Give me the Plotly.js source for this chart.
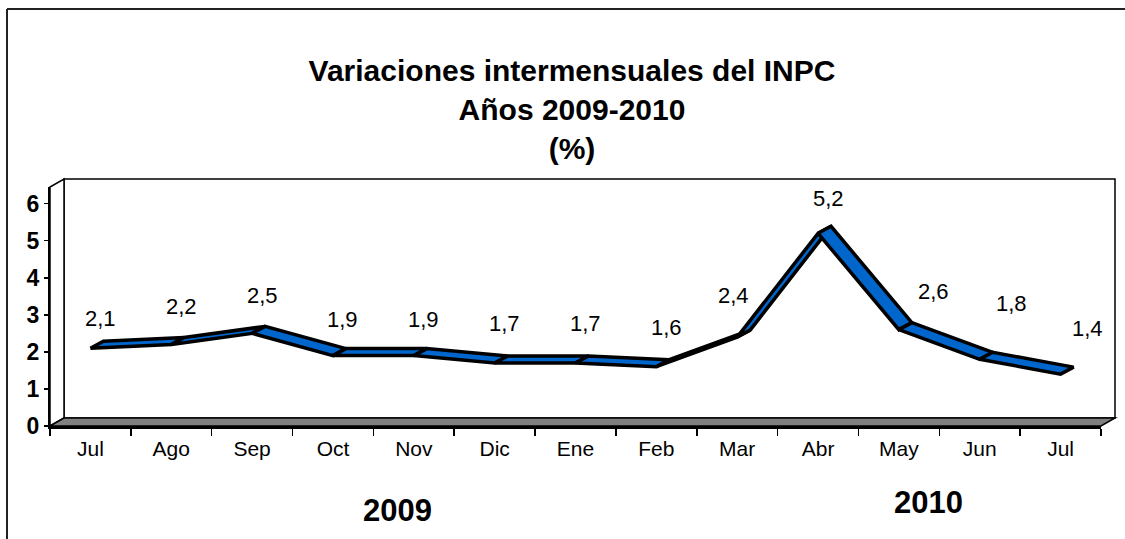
<!DOCTYPE html>
<html>
<head>
<meta charset="utf-8">
<script src="https://cdn.plot.ly/plotly-3.0.1.min.js"></script>
<style>html,body{margin:0;padding:0;background:#fff;}#chart{width:1125px;height:539px;}</style>
</head>
<body>
<div id="chart"></div>
<script>
// ---- data ----
const months = ['Jul','Ago','Sep','Oct','Nov','Dic','Ene','Feb','Mar','Abr','May','Jun','Jul'];
const values = [2.1, 2.2, 2.5, 1.9, 1.9, 1.7, 1.7, 1.6, 2.4, 5.2, 2.6, 1.8, 1.4];
const yearLabels = ['2009', '2010'];
const yTicks = [0, 1, 2, 3, 4, 5, 6];

// ---- styling / geometry ----
const FONT = 'Liberation Sans, Arial, Helvetica, sans-serif';
const W = 1125, H = 539;
const M = {l: 50, r: 24, t: 187, b: 113};
const PW = W - M.l - M.r, PH = H - M.t - M.b;
const YMAX = 6.45;
const XMIN = -0.5, XMAX = months.length - 0.5;
// depth offset of the 3D ribbon (pixels converted to data units)
const depthPx = {x: 13, y: 7};
const dX = depthPx.x / PW * (XMAX - XMIN);
const dY = depthPx.y / PH * YMAX;
const PX = p => (p - M.l) / PW;
const PY = p => (H - M.b - p) / PH;
// label nudges in pixels (dx, dy up)
const labelDx = [10, 10, 10, 10, 10, 10, 10, 10, -4, 10, 35, 32, 27];
const labelDy = [30, 38, 38, 36, 36, 40, 40, 39, 42, 35, 38, 56, 46];

const traces = [];
for (let i = 0; i < values.length - 1; i++) {
  const x0 = i, x1 = i + 1, y0 = values[i], y1 = values[i + 1];
  traces.push({
    type: 'scatter', mode: 'lines', xaxis: 'x', yaxis: 'y',
    x: [x0, x1, x1 + dX, x0 + dX, x0],
    y: [y0, y1, y1 + dY, y0 + dY, y0],
    fill: 'toself', fillcolor: '#0066CC',
    line: {color: '#000', width: 3.5, shape: 'linear'},
    hoverinfo: 'skip', showlegend: false
  });
}
// invisible trace to activate month-label axis
traces.push({type: 'scatter', mode: 'markers', x: months.map((m, i) => i), y: values,
  xaxis: 'x2', yaxis: 'y', marker: {opacity: 0}, hoverinfo: 'skip', showlegend: false});

const annotations = values.map((v, i) => ({
  x: i, y: v, xref: 'x', yref: 'y', text: v.toFixed(1).replace('.', ','),
  showarrow: false, xshift: labelDx[i], yshift: labelDy[i],
  xanchor: 'center', yanchor: 'middle',
  font: {family: FONT, size: 22, color: '#000'}
}));
annotations.push({x: PX(397), y: PY(510), xref: 'paper', yref: 'paper', text: '<b>' + yearLabels[0] + '</b>',
  xanchor: 'center', yanchor: 'middle',
  showarrow: false, font: {family: FONT, size: 31, color: '#000'}});
annotations.push({x: PX(928), y: PY(502), xref: 'paper', yref: 'paper', text: '<b>' + yearLabels[1] + '</b>',
  xanchor: 'center', yanchor: 'middle',
  showarrow: false, font: {family: FONT, size: 31, color: '#000'}});

const shapes = [
  // back wall
  {type: 'rect', xref: 'paper', yref: 'paper', x0: PX(64), y0: PY(418), x1: PX(1115), y1: PY(179),
    fillcolor: '#fff', line: {color: '#000', width: 1.5}, layer: 'below'},
  // side wall
  {type: 'path', xref: 'paper', yref: 'paper',
    path: `M ${PX(50)},${PY(426)} L ${PX(50)},${PY(187)} L ${PX(64)},${PY(179)} L ${PX(64)},${PY(418)} Z`,
    fillcolor: '#fff', line: {color: '#000', width: 1.5}, layer: 'below'},
  // floor
  {type: 'path', xref: 'paper', yref: 'paper',
    path: `M ${PX(50)},${PY(426)} L ${PX(64)},${PY(418)} L ${PX(1115)},${PY(418)} L ${PX(1101)},${PY(426)} Z`,
    fillcolor: '#808080', line: {color: '#000', width: 1.5}, layer: 'below'},
  // outer chart frame
  {type: 'line', xref: 'paper', yref: 'paper', x0: PX(7), y0: PY(9), x1: PX(1130), y1: PY(9),
    line: {color: '#222', width: 2}, layer: 'below'},
  {type: 'line', xref: 'paper', yref: 'paper', x0: PX(7), y0: PY(9), x1: PX(7), y1: PY(545),
    line: {color: '#222', width: 2}, layer: 'below'}
];

const boundaries = [];
for (let i = 0; i <= months.length; i++) boundaries.push(i - 0.5);

const layout = {
  width: W, height: H,
  margin: M,
  paper_bgcolor: '#fff', plot_bgcolor: 'rgba(0,0,0,0)',
  showlegend: false,
  title: {
    text: '<b>Variaciones intermensuales del INPC<br>Años 2009-2010<br>(%)</b>',
    font: {family: FONT, size: 30, color: '#000'},
    x: 572 / W, xanchor: 'center', y: 1 - 81 / H, yanchor: 'top', yref: 'container'
  },
  xaxis: {
    range: [XMIN, XMAX], tickvals: boundaries, ticktext: boundaries.map(() => ''),
    ticks: 'outside', ticklen: 7, tickwidth: 1.5, tickcolor: '#000',
    showline: true, linecolor: '#000', linewidth: 2.5, showgrid: false, zeroline: false,
    fixedrange: true
  },
  xaxis2: {
    overlaying: 'x', anchor: 'y', side: 'bottom', range: [XMIN, XMAX],
    tickvals: months.map((m, i) => i), ticktext: months, ticks: '',
    ticklabelstandoff: 8,
    tickfont: {family: FONT, size: 21, color: '#000'},
    showline: false, showgrid: false, zeroline: false, fixedrange: true
  },
  yaxis: {
    range: [0, YMAX], tickvals: yTicks, ticktext: yTicks.map(String),
    ticks: 'outside', ticklen: 4, tickwidth: 1.5, tickcolor: '#000',
    tickfont: {family: FONT, size: 23, color: '#000', weight: 'bold'},
    showline: true, linecolor: '#000', linewidth: 2, showgrid: false, zeroline: false,
    fixedrange: true
  },
  annotations: annotations,
  shapes: shapes
};

Plotly.newPlot('chart', traces, layout, {displayModeBar: false, staticPlot: true});
</script>
</body>
</html>
